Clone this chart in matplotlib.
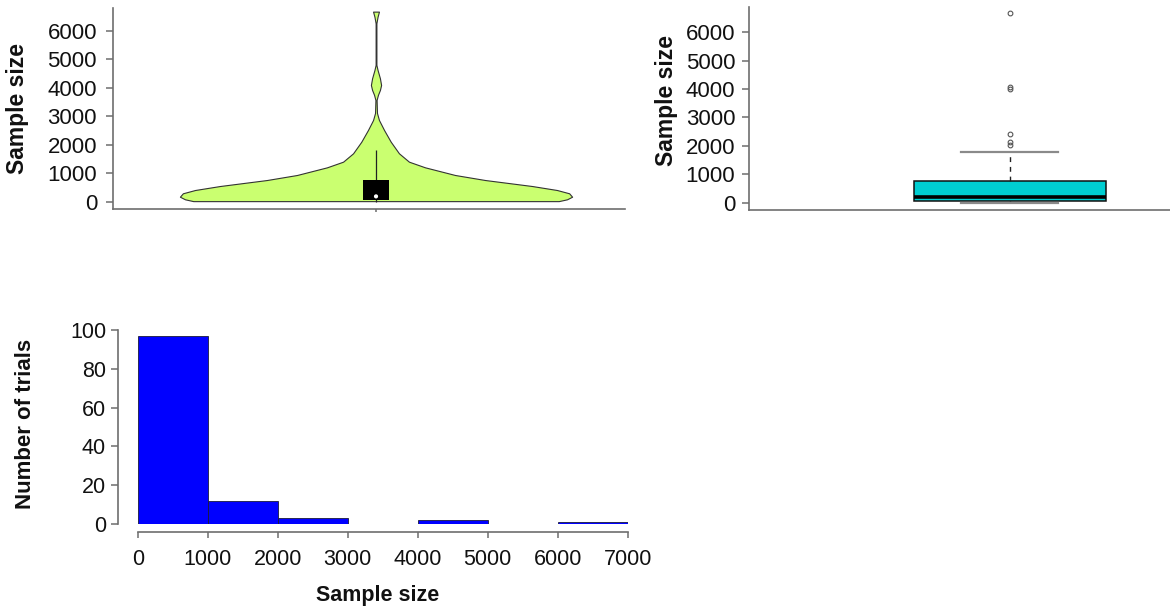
import matplotlib
matplotlib.use("Agg")
import matplotlib.pyplot as plt
import numpy as np

plt.rcParams['font.family'] = ['Liberation Sans', 'DejaVu Sans']

# ---- data -------------------------------------------------------------
# summary of trial sample sizes
q1 = 70
median = 187
q3 = 755
whisker_low = 5
whisker_high = 1800
outliers = [2030, 2150, 2415, 4010, 4070, 6669]

# kernel density profile of sample size (relative density at each level)
density_levels = [20, 84, 175, 295, 410, 550, 761, 937, 1206, 1404, 1698,
                  2105, 2516, 2867, 3112, 3570, 3750, 3920, 4095, 4330,
                  4620, 4800, 6260, 6490, 6669]
density_values = [0.932, 0.974, 1.000, 0.985, 0.923, 0.796, 0.556, 0.403,
                  0.250, 0.168, 0.117, 0.075, 0.041, 0.015, 0.005, 0.003,
                  0.010, 0.020, 0.026, 0.020, 0.008, 0.002, 0.002, 0.008,
                  0.015]

# histogram of sample size
bin_edges = [0, 1000, 2000, 3000, 4000, 5000, 6000, 7000]
trial_counts = [97, 12, 3, 0, 2, 0, 1]

y_ticks = [0, 1000, 2000, 3000, 4000, 5000, 6000]
hist_x_ticks = [0, 1000, 2000, 3000, 4000, 5000, 6000, 7000]
hist_y_ticks = [0, 20, 40, 60, 80, 100]

# ---- figure -----------------------------------------------------------
W, H = 1170, 610
fig = plt.figure(figsize=(W / 100, H / 100), dpi=100)


def rect(l, t, r, b):
    return [l / W, 1 - b / H, (r - l) / W, (b - t) / H]


axis_grey = '#6e6e6e'
text_col = '#111111'


def style_left_bottom(ax):
    for s in ('top', 'right'):
        ax.spines[s].set_visible(False)
    for s in ('left', 'bottom'):
        ax.spines[s].set_color(axis_grey)
        ax.spines[s].set_linewidth(1.2)


# ---- violin plot ------------------------------------------------------
ax1 = fig.add_axes(rect(113, 8, 625, 209))
style_left_bottom(ax1)
vstats = [dict(coords=np.array(density_levels, float),
               vals=np.array(density_values, float),
               mean=median, median=median,
               min=density_levels[0], max=density_levels[-1])]
parts = ax1.violin(vstats, positions=[1], widths=0.766,
                   showmeans=False, showextrema=False, showmedians=False)
for body in parts['bodies']:
    body.set_facecolor('#caff70')
    body.set_edgecolor('#333333')
    body.set_linewidth(0.8)
    body.set_alpha(1)
ax1.vlines(1, whisker_low, whisker_high, color='#222222', lw=0.9, zorder=3)
ax1.bar(1, q3 - q1, bottom=q1, width=0.049, color='black', zorder=4)
ax1.scatter([1], [median], s=9, c='white', edgecolors='none', zorder=5)
ax1.set_xlim(0.4863, 1.4863)
ax1.set_ylim(-256, 6796)
ax1.set_yticks(y_ticks)
ax1.set_xticks([1])
ax1.set_xticklabels([])
ax1.tick_params(axis='y', length=5, width=1.1, color=axis_grey, pad=6.5,
                labelsize=16, labelcolor=text_col)
ax1.tick_params(axis='x', length=2.5, width=1.1, color=axis_grey)
fig.text(17.5 / W, 1 - 108.5 / H, 'Sample size', rotation=90, ha='center',
         va='center', fontsize=16.5, fontweight='bold', color=text_col)

# ---- box plot ---------------------------------------------------------
ax2 = fig.add_axes(rect(749, 6.7, 1170, 210))
style_left_bottom(ax2)
bstats = [dict(med=median, q1=q1, q3=q3, whislo=whisker_low,
               whishi=whisker_high, fliers=outliers)]
ax2.bxp(bstats, positions=[1], widths=0.3685, capwidths=0.186,
        patch_artist=True, showfliers=True,
        boxprops=dict(facecolor='#00ced1', edgecolor='#111111', linewidth=1.1),
        medianprops=dict(color='black', linewidth=2.6),
        whiskerprops=dict(color='#222222', linewidth=1.0,
                          linestyle=(0, (3.5, 3.5))),
        capprops=dict(color='#8a8a8a', linewidth=1.6),
        flierprops=dict(marker='o', markersize=3.4, markerfacecolor='none',
                        markeredgecolor='#555555', markeredgewidth=0.8))
ax2.set_xlim(0.5, 1.308)
ax2.set_ylim(-257, 6901)
ax2.set_yticks(y_ticks)
ax2.set_xticks([])
ax2.tick_params(axis='y', length=5, width=1.1, color=axis_grey, pad=5,
                labelsize=16, labelcolor=text_col)
fig.text(667 / W, 1 - 100 / H, 'Sample size', rotation=90, ha='center',
         va='center', fontsize=16.5, fontweight='bold', color=text_col)

# ---- histogram --------------------------------------------------------
ax3 = fig.add_axes(rect(137.7, 329.7, 627.7, 524.3))
style_left_bottom(ax3)
ax3.bar(bin_edges[:-1], trial_counts, width=np.diff(bin_edges), align='edge',
        color='#0000ff', edgecolor='#1a1a3a', linewidth=0.6)
ax3.set_xlim(0, 7000)
ax3.set_ylim(0, 100)
ax3.spines['left'].set_position(('outward', 14))
ax3.spines['bottom'].set_position(('outward', 5.3))
ax3.spines['left'].set_bounds(0, 100)
ax3.spines['bottom'].set_bounds(0, 7000)
ax3.set_xticks(hist_x_ticks)
ax3.set_yticks(hist_y_ticks)
ax3.tick_params(axis='y', length=4.8, width=1.1, color=axis_grey, pad=4,
                labelsize=15.5, labelcolor=text_col)
ax3.tick_params(axis='x', length=4.3, width=1.1, color=axis_grey, pad=8.5,
                labelsize=15.5, labelcolor=text_col)
fig.text(26 / W, 1 - 424 / H, 'Number of trials', rotation=90, ha='center',
         va='center', fontsize=16, fontweight='bold', color=text_col)
fig.text(378 / W, 1 - 595 / H, 'Sample size', ha='center', va='center',
         fontsize=15.5, fontweight='bold', color=text_col)

fig.savefig('out.png', dpi=100, facecolor='white')
